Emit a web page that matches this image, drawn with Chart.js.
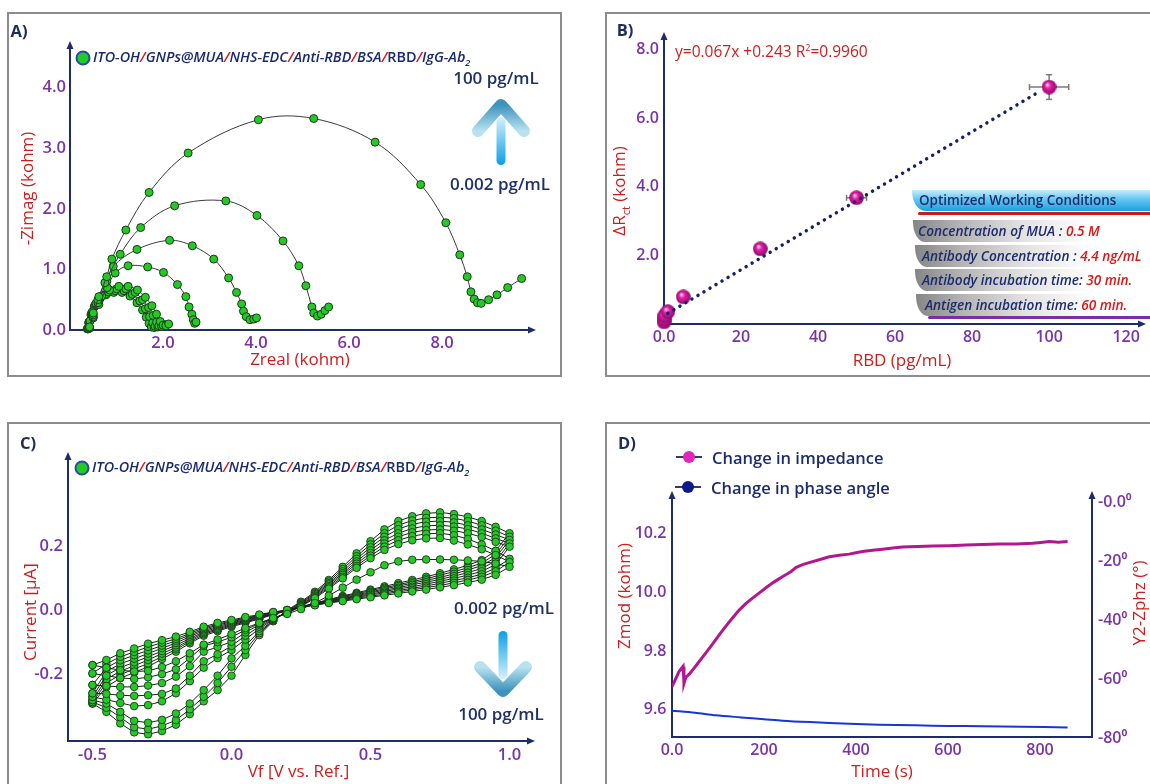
<!DOCTYPE html>
<html>
<head>
<meta charset="utf-8">
<script src="https://cdn.jsdelivr.net/npm/chart.js@4.4.1/dist/chart.umd.min.js"></script>
<style>
  html, body { margin: 0; padding: 0; background: #fff; }
  #page { position: relative; width: 1150px; height: 784px; overflow: hidden; font-family: 'Open Sans', 'Noto Sans', sans-serif; }
  .panel { position: absolute; box-sizing: border-box; border: 2px solid #8c8c8c; }
  canvas { position: absolute; }
  .tag { position: absolute; transform: translate(-50%, -50%); font-weight: 700; font-size: 16.5px; color: #1c2b5a; }
  .conc { position: absolute; transform: translate(-50%, -50%); white-space: nowrap; font-size: 17px; font-weight: 600; color: #1f3168; }
  .leg { position: absolute; transform: translateY(-50%); white-space: nowrap; font-size: 14.4px; font-style: italic; font-weight: 600; color: #1a2a70; }
  .leg b { color: #e01515; font-weight: 600; }
  .ytitle { position: absolute; transform: translate(-50%, -50%) rotate(-90deg); white-space: nowrap; font-size: 17px; color: #d01c1c; }
  .eq { position: absolute; transform: translateY(-50%); white-space: nowrap; font-size: 15.5px; color: #d01c1c; }
  .dleg { position: absolute; transform: translateY(-50%); white-space: nowrap; font-size: 16.5px; font-weight: 600; color: #1d2c6e; }
  .band { position: absolute; height: 22px; line-height: 22px; white-space: nowrap; font-weight: 600; color: #1d2c6c; box-sizing: border-box; }
  .head { width: 260px; height: 21px; line-height: 21px; font-size: 13.4px; padding-left: 7px;
          background: linear-gradient(180deg, #c8edfc 0%, #62c6f1 45%, #1b9fe0 100%);
          border-bottom-left-radius: 14px 20px; }
  .row { width: 260px; font-size: 13.6px; font-style: italic;
         background: linear-gradient(90deg, #868686 0%, #b4b4b4 18%, #e2e2e2 42%, #ffffff 68%);
         border-bottom-left-radius: 12px 20px; }
  .row span { color: #e01414; }
  .rule { position: absolute; height: 2.5px; border-radius: 2px; }
</style>
</head>
<body>
<div id="page">
  <div class="panel" style="left:7px;top:12px;width:555px;height:365px;"></div>
  <div class="panel" style="left:605px;top:12px;width:600px;height:365px;"></div>
  <div class="panel" style="left:7px;top:422px;width:555px;height:400px;"></div>
  <div class="panel" style="left:605px;top:422px;width:600px;height:400px;"></div>

  <canvas id="cA" width="551" height="361" style="left:9px;top:14px;width:551px;height:361px;"></canvas>
  <canvas id="cB" width="560" height="361" style="left:607px;top:14px;width:560px;height:361px;"></canvas>
  <canvas id="cC" width="551" height="360" style="left:9px;top:424px;width:551px;height:360px;"></canvas>
  <canvas id="cD" width="560" height="360" style="left:607px;top:424px;width:560px;height:360px;"></canvas>

  <svg width="1150" height="784" style="position:absolute;left:0;top:0;pointer-events:none">
    <defs>
      <linearGradient id="shaftUp" x1="0" y1="0" x2="0" y2="1"><stop offset="0" stop-color="#d6f1fc"/><stop offset="1" stop-color="#0a9fe8"/></linearGradient>
      <linearGradient id="chevUp" x1="0" y1="0" x2="0" y2="1"><stop offset="0" stop-color="#3d93bd"/><stop offset="1" stop-color="#b9e2f0"/></linearGradient>
      <linearGradient id="shaftDn" x1="0" y1="0" x2="0" y2="1"><stop offset="0" stop-color="#0a9fe8"/><stop offset="1" stop-color="#d6f1fc"/></linearGradient>
      <linearGradient id="chevDn" x1="0" y1="0" x2="0" y2="1"><stop offset="0" stop-color="#b9e2f0"/><stop offset="1" stop-color="#3d93bd"/></linearGradient>
    </defs>
    <path d="M478,131 L501,105 L524,131" fill="none" stroke="url(#chevUp)" stroke-width="12" stroke-linecap="round" stroke-linejoin="round"/>
    <rect x="496.5" y="117" width="9" height="48" rx="4.5" fill="url(#shaftUp)"/>
    <path d="M480,667 L503,691 L526,667" fill="none" stroke="url(#chevDn)" stroke-width="12" stroke-linecap="round" stroke-linejoin="round"/>
    <rect x="498.5" y="631" width="9" height="48" rx="4.5" fill="url(#shaftDn)"/>
    <circle cx="83" cy="58" r="6.5" fill="#22cc22" stroke="#2a48b0" stroke-width="2"/>
    <circle cx="82" cy="468" r="6.5" fill="#22cc22" stroke="#2a48b0" stroke-width="2"/>
    <line x1="676" y1="457" x2="702" y2="457" stroke="#333a6a" stroke-width="2"/>
    <circle cx="689" cy="457" r="6" fill="#e325b9"/>
    <line x1="675" y1="487" x2="701" y2="487" stroke="#333a6a" stroke-width="2"/>
    <circle cx="688" cy="487" r="6" fill="#0e1a8a"/>
  </svg>

  <div class="tag" style="left:19px;top:30px;">A)</div>
  <div class="tag" style="left:625px;top:29px;">B)</div>
  <div class="tag" style="left:28px;top:442px;">C)</div>
  <div class="tag" style="left:627px;top:442px;">D)</div>

  <div class="leg" style="left:93px;top:58px;">ITO-OH<b>/</b>GNPs@MUA<b>/</b>NHS-EDC<b>/</b>Anti-RBD<b>/</b>BSA<b>/</b><span style="font-style:normal">RBD</span><b>/</b>IgG-Ab<sub style="font-size:9px">2</sub></div>
  <div class="leg" style="left:92px;top:468px;">ITO-OH<b>/</b>GNPs@MUA<b>/</b>NHS-EDC<b>/</b>Anti-RBD<b>/</b>BSA<b>/</b><span style="font-style:normal">RBD</span><b>/</b>IgG-Ab<sub style="font-size:9px">2</sub></div>

  <div class="conc" style="left:496px;top:77px;">100 pg/mL</div>
  <div class="conc" style="left:500px;top:183px;">0.002 pg/mL</div>
  <div class="conc" style="left:504px;top:607px;">0.002 pg/mL</div>
  <div class="conc" style="left:501px;top:713px;">100 pg/mL</div>

  <div class="eq" style="left:675px;top:51px;">y=0.067x +0.243 R<sup style="font-size:9px">2</sup>=0.9960</div>
  <div class="ytitle" style="left:620px;top:191px;">ΔR<sub style="font-size:11px">ct</sub> (kohm)</div>
  <div class="ytitle" style="left:29px;top:612px;">Current [µA]</div>
  <div class="ytitle" style="left:623px;top:596px;">Zmod (kohm)</div>
  <div class="ytitle" style="left:1138px;top:603px;">Y2-Zphz (°)</div>

  <div class="band head" style="left:912px;top:190px;">Optimized Working Conditions</div>
  <div class="rule" style="left:918px;top:212px;width:240px;background:#cc1a1a;"></div>
  <div class="band row" style="left:913px;top:220px;padding-left:5px;">Concentration of MUA : <span>0.5 M</span></div>
  <div class="band row" style="left:915px;top:245px;padding-left:7px;">Antibody Concentration : <span>4.4 ng/mL</span></div>
  <div class="band row" style="left:915px;top:269px;padding-left:7px;">Antibody incubation time: <span>30 min.</span></div>
  <div class="band row" style="left:916px;top:294px;padding-left:9px;">Antigen incubation time: <span>60 min.</span></div>
  <div class="rule" style="left:928px;top:316px;width:230px;background:#7a2fa8;"></div>

  <div class="dleg" style="left:712px;top:457px;">Change in impedance</div>
  <div class="dleg" style="left:711px;top:487px;">Change in phase angle</div>
</div>

<script>
// ---- A) Nyquist plots, Zreal vs -Zimag (kohm), one list per RBD concentration
const nyq100 = [[0.42,0.05],[0.50,0.28],[0.62,0.55],[0.79,0.88],[0.90,1.17],[1.20,1.65],[1.70,2.27],[2.54,2.92],[4.05,3.47],[5.24,3.49],[6.56,3.10],[7.54,2.40],[8.08,1.77],[8.38,1.24],[8.54,0.88],[8.62,0.63],[8.69,0.51],[8.76,0.45],[8.84,0.44],[9.00,0.50],[9.18,0.58],[9.41,0.70],[9.71,0.85]];
const nyq50 = [[0.42,0.04],[0.50,0.25],[0.60,0.50],[0.75,0.78],[1.08,1.25],[1.52,1.69],[2.25,2.05],[3.35,2.13],[4.02,1.89],[4.58,1.47],[4.92,1.06],[5.07,0.73],[5.20,0.38],[5.24,0.28],[5.32,0.23],[5.40,0.26],[5.48,0.32],[5.56,0.38]];
const nyq25 = [[0.42,0.04],[0.50,0.22],[0.60,0.45],[0.79,0.80],[0.93,1.05],[1.44,1.33],[2.14,1.48],[2.63,1.39],[3.09,1.17],[3.41,0.86],[3.58,0.62],[3.69,0.43],[3.73,0.31],[3.79,0.22],[3.87,0.17],[3.95,0.18],[4.01,0.20]];
const nyq5 = [[0.42,0.03],[0.50,0.20],[0.62,0.42],[0.80,0.70],[0.97,0.94],[1.25,1.06],[1.67,1.04],[2.01,0.95],[2.31,0.75],[2.49,0.55],[2.56,0.38],[2.62,0.26],[2.65,0.17],[2.68,0.11],[2.71,0.13]];
const nyq1 = [[0.40,0.02],[0.43,0.15],[0.48,0.30],[0.56,0.44],[0.68,0.56],[0.85,0.66],[1.05,0.72],[1.25,0.72],[1.45,0.66],[1.62,0.54],[1.76,0.40],[1.86,0.26],[1.94,0.14],[2.00,0.08],[2.06,0.07],[2.12,0.10]];
const nyq02 = [[0.39,0.02],[0.42,0.14],[0.47,0.28],[0.55,0.42],[0.66,0.54],[0.82,0.63],[1.00,0.68],[1.20,0.68],[1.40,0.62],[1.56,0.50],[1.69,0.37],[1.79,0.24],[1.86,0.13],[1.91,0.07],[1.97,0.06],[2.03,0.09]];
const nyq002 = [[0.38,0.02],[0.41,0.13],[0.46,0.27],[0.53,0.40],[0.64,0.51],[0.79,0.60],[0.97,0.65],[1.16,0.65],[1.34,0.59],[1.50,0.48],[1.62,0.35],[1.71,0.22],[1.78,0.12],[1.83,0.06],[1.89,0.05],[1.95,0.08]];
const nyq0002 = [[0.37,0.02],[0.40,0.12],[0.45,0.25],[0.52,0.38],[0.62,0.49],[0.77,0.58],[0.94,0.62],[1.12,0.62],[1.29,0.56],[1.44,0.45],[1.56,0.33],[1.64,0.21],[1.70,0.11],[1.75,0.05],[1.81,0.04],[1.87,0.07]];
const aXTicks = [2, 4, 6, 8];
const aYTicks = [0, 1, 2, 3, 4];

// ---- B) calibration
const rbdX = [0.002, 0.02, 0.2, 1, 5, 25, 50, 100];
const rbdY = [0.06, 0.14, 0.24, 0.36, 0.79, 2.19, 3.68, 6.91];
const rbdXErr = [0, 0, 0, 0, 0, 0, 2.6, 5.1];
const rbdYErr = [0, 0, 0, 0, 0, 0, 0.12, 0.36];
const fitX = [1.0, 97.5];
const fitY = [0.31, 6.78];
const bXTicks = [0, 20, 40, 60, 80, 100, 120];
const bYTicks = [2, 4, 6, 8];

// ---- C) cyclic voltammograms: forward (F) and reverse (R) sweeps per concentration
const cvX = [-0.5,-0.45,-0.4,-0.35,-0.3,-0.25,-0.2,-0.15,-0.1,-0.05,0,0.05,0.1,0.15,0.2,0.25,0.3,0.35,0.4,0.45,0.5,0.55,0.6,0.65,0.7,0.75,0.8,0.85,0.9,0.95,1.0];
const cvF0 = [-0.172,-0.156,-0.135,-0.120,-0.105,-0.094,-0.083,-0.068,-0.052,-0.040,-0.031,-0.022,-0.014,-0.006,0.000,0.008,0.015,0.022,0.028,0.034,0.040,0.046,0.052,0.058,0.064,0.071,0.078,0.086,0.095,0.110,0.135];
const cvF1 = [-0.198,-0.168,-0.146,-0.131,-0.115,-0.102,-0.090,-0.073,-0.056,-0.044,-0.034,-0.025,-0.016,-0.007,0.000,0.008,0.016,0.024,0.030,0.037,0.043,0.050,0.057,0.063,0.070,0.077,0.085,0.094,0.104,0.121,0.150];
const cvF2 = [-0.234,-0.180,-0.157,-0.141,-0.126,-0.111,-0.096,-0.078,-0.060,-0.047,-0.037,-0.027,-0.018,-0.008,-0.001,0.009,0.017,0.025,0.033,0.040,0.047,0.054,0.061,0.068,0.075,0.084,0.092,0.101,0.112,0.131,0.160];
const cvF3 = [-0.260,-0.192,-0.168,-0.152,-0.136,-0.119,-0.103,-0.083,-0.064,-0.051,-0.040,-0.030,-0.020,-0.009,-0.001,0.009,0.018,0.027,0.035,0.043,0.050,0.058,0.066,0.073,0.081,0.090,0.099,0.109,0.121,0.142,0.198];
const cvF4 = [-0.271,-0.204,-0.180,-0.163,-0.146,-0.128,-0.110,-0.089,-0.068,-0.055,-0.043,-0.032,-0.022,-0.011,-0.001,0.009,0.019,0.028,0.037,0.045,0.054,0.062,0.070,0.079,0.087,0.096,0.106,0.117,0.130,0.153,0.208];
const cvF5 = [-0.281,-0.216,-0.191,-0.174,-0.156,-0.136,-0.117,-0.094,-0.072,-0.059,-0.046,-0.035,-0.024,-0.012,-0.001,0.009,0.020,0.030,0.039,0.048,0.057,0.066,0.075,0.084,0.093,0.102,0.113,0.125,0.139,0.164,0.219];
const cvF6 = [-0.287,-0.228,-0.202,-0.184,-0.167,-0.145,-0.123,-0.099,-0.076,-0.062,-0.049,-0.037,-0.026,-0.013,-0.002,0.010,0.021,0.031,0.042,0.051,0.061,0.070,0.079,0.089,0.098,0.109,0.120,0.132,0.147,0.174,0.229];
const cvF7 = [-0.292,-0.240,-0.213,-0.195,-0.177,-0.153,-0.130,-0.104,-0.080,-0.066,-0.052,-0.040,-0.028,-0.014,-0.002,0.010,0.022,0.033,0.044,0.054,0.064,0.074,0.084,0.094,0.104,0.115,0.127,0.140,0.156,0.185,0.240];
// reverse sweeps, from 1.0 V back to -0.5 V
const cvR0 = [0.135,0.145,0.152,0.155,0.157,0.158,0.158,0.157,0.152,0.140,0.118,0.095,0.070,0.045,0.022,0.003,-0.012,-0.025,-0.040,-0.056,-0.075,-0.092,-0.108,-0.135,-0.160,-0.178,-0.190,-0.192,-0.188,-0.180,-0.172];
const cvR1 = [0.150,0.172,0.190,0.205,0.217,0.225,0.224,0.218,0.206,0.188,0.162,0.132,0.099,0.067,0.037,0.011,-0.010,-0.025,-0.042,-0.062,-0.085,-0.100,-0.112,-0.150,-0.185,-0.200,-0.210,-0.215,-0.212,-0.205,-0.198];
const cvR2 = [0.160,0.185,0.205,0.222,0.234,0.240,0.238,0.231,0.218,0.198,0.170,0.138,0.104,0.071,0.040,0.013,-0.009,-0.026,-0.046,-0.070,-0.099,-0.115,-0.130,-0.175,-0.208,-0.228,-0.236,-0.240,-0.240,-0.237,-0.234];
const cvR3 = [0.198,0.213,0.228,0.240,0.248,0.252,0.250,0.243,0.229,0.208,0.178,0.145,0.110,0.075,0.043,0.015,-0.008,-0.028,-0.052,-0.080,-0.112,-0.138,-0.160,-0.205,-0.245,-0.262,-0.266,-0.268,-0.266,-0.262,-0.260];
const cvR4 = [0.208,0.224,0.240,0.253,0.261,0.265,0.263,0.255,0.240,0.218,0.187,0.152,0.115,0.080,0.046,0.017,-0.006,-0.030,-0.058,-0.092,-0.125,-0.150,-0.180,-0.222,-0.260,-0.285,-0.297,-0.300,-0.290,-0.280,-0.271];
const cvR5 = [0.219,0.236,0.252,0.265,0.274,0.278,0.276,0.268,0.253,0.229,0.196,0.160,0.121,0.084,0.050,0.020,-0.004,-0.032,-0.066,-0.112,-0.151,-0.205,-0.250,-0.292,-0.323,-0.343,-0.352,-0.346,-0.318,-0.292,-0.281];
const cvR6 = [0.229,0.248,0.265,0.278,0.287,0.290,0.288,0.280,0.265,0.240,0.205,0.168,0.128,0.089,0.053,0.023,-0.002,-0.033,-0.072,-0.125,-0.177,-0.228,-0.271,-0.310,-0.344,-0.362,-0.372,-0.366,-0.335,-0.305,-0.287];
const cvR7 = [0.240,0.260,0.278,0.291,0.300,0.305,0.302,0.293,0.278,0.252,0.215,0.177,0.135,0.094,0.057,0.026,0.000,-0.035,-0.078,-0.140,-0.205,-0.250,-0.285,-0.325,-0.358,-0.378,-0.388,-0.382,-0.354,-0.318,-0.292];
const cXTicks = [-0.5, 0, 0.5, 1.0];
const cYTicks = [-0.2, 0, 0.2];

// ---- D) time response
const zTime = [0,5,10,15,20,24,26,30,38,45,55,66,77,88,99,110,121,132,146,161,175,190,205,219,230,240,250,259,270,284,298,320,342,364,385,400,414,436,458,480,501,534,567,603,639,675,712,748,784,802,820,840,860];
const zMod = [9.679,9.695,9.712,9.730,9.740,9.748,9.690,9.711,9.722,9.736,9.756,9.779,9.801,9.824,9.848,9.871,9.893,9.914,9.940,9.963,9.981,9.999,10.017,10.033,10.044,10.054,10.063,10.072,10.086,10.095,10.102,10.112,10.122,10.127,10.131,10.136,10.140,10.144,10.148,10.152,10.155,10.157,10.159,10.160,10.162,10.164,10.166,10.166,10.168,10.171,10.174,10.172,10.174];
const phTime = [0,50,95,150,200,240,300,385,450,530,600,675,760,860];
const phVal = [-70.7,-71.4,-72.3,-73.0,-73.6,-74.1,-74.6,-75.2,-75.5,-75.7,-75.9,-76.0,-76.2,-76.4];
const dXTicks = [0, 200, 400, 600, 800];
const dYTicks = [9.6, 9.8, 10.0, 10.2];
const dY2Ticks = [-80, -60, -40, -20, 0];

const NAVY = '#1e2c6b', PURPLE = '#7a34a8', RED = '#d01c1c', GREEN = '#25c925';
Chart.defaults.font.family = "'Open Sans', 'Noto Sans', sans-serif";

const f1 = v => v.toFixed(1);

function mkAxis(min, max, tickVals, fmt, size, o) {
  return {
    type: 'linear', min, max, position: o.position,
    grid: { display: false, drawTicks: false },
    border: { display: o.border !== false, color: NAVY, width: 2 },
    ticks: { color: PURPLE, font: { size: o.fs || 16, weight: '600' }, padding: o.pad, callback: fmt, includeBounds: false, autoSkip: false, maxRotation: 0 },
    afterBuildTicks: s => { s.ticks = tickVals.map(v => ({ value: v })); },
    afterFit: s => { if (s.isHorizontal()) s.height = size; else s.width = size; },
    title: o.title ? { display: true, text: o.title, color: RED, font: { size: 17 }, padding: o.tpad } : { display: false }
  };
}

// arrow heads at the axis ends
const axisArrows = {
  id: 'axisArrows',
  afterDraw(chart, args, o) {
    const { ctx, chartArea: a } = chart;
    ctx.save();
    ctx.strokeStyle = NAVY; ctx.fillStyle = NAVY; ctx.lineWidth = 2;
    (o.up || []).forEach(side => {
      const x = side === 'left' ? a.left : a.right;
      const tip = a.top - 6;
      ctx.beginPath(); ctx.moveTo(x, a.top + 1); ctx.lineTo(x, tip + 4); ctx.stroke();
      ctx.beginPath(); ctx.moveTo(x, tip); ctx.lineTo(x - 3.5, tip + 8); ctx.lineTo(x + 3.5, tip + 8); ctx.closePath(); ctx.fill();
    });
    if (o.right) {
      const y = a.bottom, tip = a.right + 6;
      ctx.beginPath(); ctx.moveTo(a.right - 1, y); ctx.lineTo(tip - 4, y); ctx.stroke();
      ctx.beginPath(); ctx.moveTo(tip, y); ctx.lineTo(tip - 8, y - 3.5); ctx.lineTo(tip - 8, y + 3.5); ctx.closePath(); ctx.fill();
    }
    ctx.restore();
  }
};

// error bars for panel B
const errorBars = {
  id: 'errorBars',
  beforeDatasetsDraw(chart, args, o) {
    if (!o.x) return;
    const { ctx, scales: { x, y } } = chart;
    ctx.save();
    ctx.strokeStyle = '#7a7a7a'; ctx.lineWidth = 1.5;
    const seg = (x1, y1, x2, y2) => { ctx.beginPath(); ctx.moveTo(x1, y1); ctx.lineTo(x2, y2); ctx.stroke(); };
    o.x.forEach((xv, i) => {
      const px = x.getPixelForValue(xv), py = y.getPixelForValue(o.y[i]);
      if (o.xe[i]) {
        const l = x.getPixelForValue(xv - o.xe[i]), r = x.getPixelForValue(xv + o.xe[i]);
        seg(l, py, r, py); seg(l, py - 3, l, py + 3); seg(r, py - 3, r, py + 3);
      }
      if (o.ye[i]) {
        const t = y.getPixelForValue(o.y[i] + o.ye[i]), b = y.getPixelForValue(o.y[i] - o.ye[i]);
        seg(px, t, px, b); seg(px - 3, t, px + 3, t); seg(px - 3, b, px + 3, b);
      }
    });
    ctx.restore();
  }
};

const base = { responsive: false, devicePixelRatio: 1, animation: false, events: [] };

// ---- A
const nyqCurves = [nyq100, nyq50, nyq25, nyq5, nyq1, nyq02, nyq002, nyq0002];
new Chart(document.getElementById('cA'), {
  type: 'scatter',
  data: {
    datasets: nyqCurves.map(c => ({
      data: c.map(p => ({ x: p[0], y: p[1] })),
      showLine: true, tension: 0.35, borderColor: '#3a3a3a', borderWidth: 1,
      pointRadius: 4, pointBackgroundColor: GREEN, pointBorderColor: '#1a3a1a', pointBorderWidth: 1, clip: false
    }))
  },
  options: Object.assign({}, base, {
    layout: { padding: { top: 33, right: 30, left: 0, bottom: 0 } },
    plugins: { legend: { display: false }, tooltip: { enabled: false }, axisArrows: { up: ['left'], right: true } },
    scales: {
      x: mkAxis(0, 9.89, aXTicks, f1, 45, { fs: 16.5, pad: 3, title: 'Zreal (kohm)', tpad: { top: 0, bottom: 4.8 } }),
      y: mkAxis(0, 4.67, aYTicks, f1, 61, { fs: 16.5, pad: 4, title: '-Zimag (kohm)', tpad: { top: 9.3, bottom: 0 } })
    }
  }),
  plugins: [axisArrows]
});

// ---- B
const sphere = document.createElement('canvas');
sphere.width = 15; sphere.height = 15;
(() => {
  const g = sphere.getContext('2d');
  const grd = g.createRadialGradient(5.5, 5, 0.5, 7.5, 7.5, 7.5);
  grd.addColorStop(0, '#ffc0f0');
  grd.addColorStop(0.35, '#e41ea6');
  grd.addColorStop(1, '#8a0a68');
  g.fillStyle = grd;
  g.beginPath(); g.arc(7.5, 7.5, 7.3, 0, Math.PI * 2); g.fill();
})();

new Chart(document.getElementById('cB'), {
  type: 'scatter',
  data: {
    datasets: [
      {
        data: fitX.map((x, i) => ({ x, y: fitY[i] })),
        showLine: true, borderColor: '#15226a', borderWidth: 3.5, borderDash: [0.01, 7], borderCapStyle: 'round',
        pointRadius: 0, clip: false
      },
      {
        data: rbdX.map((x, i) => ({ x, y: rbdY[i] })),
        pointStyle: sphere, pointRadius: 7, clip: false
      }
    ]
  },
  options: Object.assign({}, base, {
    layout: { padding: { top: 24, right: 27, left: 0, bottom: 0 } },
    plugins: {
      legend: { display: false }, tooltip: { enabled: false },
      axisArrows: { up: ['left'], right: true },
      errorBars: { x: rbdX, y: rbdY, xe: rbdXErr, ye: rbdYErr }
    },
    scales: {
      x: mkAxis(0, 123.6, bXTicks, v => v === 0 ? '0.0' : String(v), 51, { pad: 4, title: 'RBD (pg/mL)', tpad: { top: 0, bottom: 3.8 } }),
      y: mkAxis(0, 8.34, bYTicks, f1, 57, { pad: 5 })
    }
  }),
  plugins: [axisArrows, errorBars]
});

// ---- C
const cvFwd = [cvF0, cvF1, cvF2, cvF3, cvF4, cvF5, cvF6, cvF7];
const cvRev = [cvR0, cvR1, cvR2, cvR3, cvR4, cvR5, cvR6, cvR7];
const cvXrev = cvX.slice().reverse();
new Chart(document.getElementById('cC'), {
  type: 'scatter',
  data: {
    datasets: cvFwd.map((F, k) => ({
      data: cvX.map((x, i) => ({ x, y: F[i] }))
        .concat(cvXrev.slice(1).map((x, i) => ({ x, y: cvRev[k][i + 1] }))),
      showLine: true, tension: 0, borderColor: '#1e1e1e', borderWidth: 1,
      pointRadius: 3.8, pointBackgroundColor: GREEN, pointBorderColor: '#1a3a1a', pointBorderWidth: 0.9, clip: false
    }))
  },
  options: Object.assign({}, base, {
    layout: { padding: { top: 34, right: 31, left: 0, bottom: 0 } },
    plugins: { legend: { display: false }, tooltip: { enabled: false }, axisArrows: { up: ['left'], right: true } },
    scales: {
      x: mkAxis(-0.588, 1.070, cXTicks, f1, 43, { fs: 16.5, pad: 4, title: 'Vf [V vs. Ref.]', tpad: { top: 0, bottom: 2.1 } }),
      y: mkAxis(-0.409, 0.475, cYTicks, f1, 59, { fs: 16.5, pad: 5 })
    }
  }),
  plugins: [axisArrows]
});

// ---- D
new Chart(document.getElementById('cD'), {
  type: 'line',
  data: {
    datasets: [
      { data: zTime.map((t, i) => ({ x: t, y: zMod[i] })), borderColor: '#b3168f', borderWidth: 3, pointRadius: 0, tension: 0, yAxisID: 'y' },
      { data: phTime.map((t, i) => ({ x: t, y: phVal[i] })), borderColor: '#1736d6', borderWidth: 2, pointRadius: 0, tension: 0.3, yAxisID: 'y2' }
    ]
  },
  options: Object.assign({}, base, {
    layout: { padding: { top: 73, right: 0, left: 0, bottom: 0 } },
    plugins: { legend: { display: false }, tooltip: { enabled: false }, axisArrows: { up: ['left', 'right'] } },
    scales: {
      x: mkAxis(0, 913, dXTicks, v => v === 0 ? '0.0' : String(v), 47, { pad: 4, title: 'Time (s)', tpad: { top: 0, bottom: 2.1 } }),
      y: mkAxis(9.507, 10.326, dYTicks, f1, 65, { position: 'left', pad: 5.5 }),
      y2: mkAxis(-79.66, 1.87, dY2Ticks, v => (v === 0 ? '-0.0' : String(v)) + '\u2070', 75, { position: 'right', pad: 6 })
    }
  }),
  plugins: [axisArrows]
});
</script>
</body>
</html>
